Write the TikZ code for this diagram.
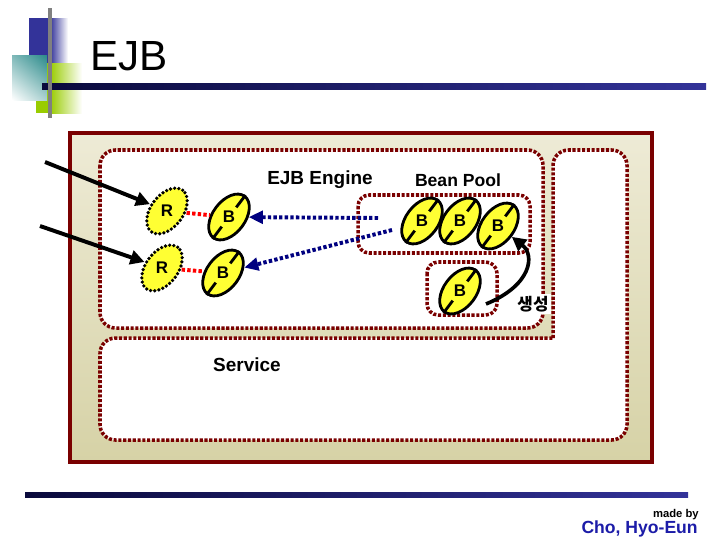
\documentclass[tikz,border=0pt]{standalone}
\usepackage{fontspec}
\setmainfont{Liberation Sans}
\newfontfamily\krfont{Noto Sans CJK KR}
\usetikzlibrary{arrows.meta,shapes,shadings,calc}

\definecolor{framered}{HTML}{7A0000}
\definecolor{beigetop}{HTML}{EEEBD6}
\definecolor{beigebot}{HTML}{D6D2A6}
\definecolor{beanyellow}{HTML}{FFFF33}
\definecolor{navy}{HTML}{000080}
\definecolor{slate}{HTML}{333399}
\definecolor{navydark}{HTML}{0A0A3C}
\definecolor{lime}{HTML}{99CC00}
\definecolor{tealdark}{HTML}{2A8A8A}
\definecolor{sigblue}{HTML}{1C1CA8}

\tikzstyle{dotbox}=[draw=framered, line width=2.5pt, dash pattern=on 2.2pt off 1.2pt, fill=white, rounded corners=11pt]
\tikzstyle{bean}=[ellipse, rotate=53, draw=black, line width=2pt, fill=beanyellow, minimum width=37pt, minimum height=23pt, inner sep=0pt, font=\bfseries\fontsize{12}{12}\selectfont]
\tikzstyle{req}=[bean, line width=2.6pt, dash pattern=on 0pt off 3pt, line cap=round]
\tikzstyle{slot}=[draw, line width=2pt]
\tikzstyle{call}=[draw, line width=2.8pt, -{Triangle[length=10pt,width=10pt]}]
\tikzstyle{link}=[draw, red, line width=2.8pt, dash pattern=on 2.4pt off 1.6pt]
\tikzstyle{lookup}=[draw, navy, line width=2.8pt, dash pattern=on 2.4pt off 1.6pt, -{Triangle[length=10pt,width=9pt]}]
\tikzstyle{boxlabel}=[font=\bfseries\fontsize{13.5}{13.5}\selectfont]

\begin{document}
\begin{tikzpicture}[x=0.025cm, y=-0.025cm]

    \useasboundingbox (0,0) rectangle (720,540);

    % title decoration
    \fill[slate] (29,18) rectangle (50,63);
    \shade[left color=slate, right color=white] (50,18) rectangle (68,63);
    \fill[lime] (36,63) rectangle (50,113);
    \shade[left color=lime, right color=white] (50,63) rectangle (82,113);
    \shade[upper right=tealdark, upper left=tealdark!60, lower left=white, lower right=tealdark!40] (12,55) rectangle (47,100);
    \shade[left color=navydark, right color=slate] (42,83) rectangle (706,89);
    \draw[gray, line width=2.2pt] (50,8) -- (50,118);
    \node[anchor=base west, font=\fontsize{30}{30}\selectfont, inner sep=0pt] (title) at (90,70) {EJB};

    % container
    \draw[framered, line width=2.8pt, top color=beigetop, bottom color=beigebot] (70,133) rectangle (652,462);
    \draw[dotbox] (553,338) -- (553,150) -- (627,150) -- (627,440) -- (100,440) -- (100,338) -- (553,338);
    \draw[dotbox] (100,150) rectangle (543,328);
    \draw[dotbox, rounded corners=8pt] (358,195) rectangle (530,253);
    \draw[dotbox, rounded corners=8pt] (427,262) rectangle (497,315);

    \node[boxlabel] (engine) at (320,180) {EJB Engine};
    \node[boxlabel, font=\bfseries\fontsize{12.5}{12.5}\selectfont] (pool) at (458,180) {Bean Pool};
    \node[boxlabel] (service) at (247,365) {Service};
    \node[fill=white, inner sep=1.5pt, font=\krfont\bfseries\fontsize{12}{12}\selectfont] (make) at (533,304) {생성};

    % requests and beans
    \foreach \x/\y/\name in {167/211/r1, 162/268/r2}
        \node[req] (\name) at (\x,\y) {\rotatebox{-53}{R}};

    \foreach \x/\y/\name in {229/217/b1, 223/273/b2, 422/221/p1, 460/221/p2, 498/226/p3, 460/291/p4}
        \node[bean] (\name) at (\x,\y) {\rotatebox{-53}{B}};

    \foreach \name in {b1, b2, p1, p2, p3, p4} {
        \draw[slot] (\name.east) -- ($(\name.east)!0.28!(\name.west)$);
        \draw[slot] (\name.west) -- ($(\name.west)!0.28!(\name.east)$);
    }

    % connectors
    \coordinate (in1) at (45,162);
    \coordinate (in2) at (40,226);
    \coordinate (from1) at (378,218);
    \coordinate (from2) at (392,230);
    \coordinate (grow) at (486,304);

    \path[call] (in1) -- (r1);
    \path[call] (in2) -- (r2);
    \path[link] (r1) -- (b1);
    \path[link] (r2) -- (b2);
    \path[lookup] (from1) -- (b1);
    \path[lookup] (from2) -- (b2);
    \path[call, line width=2.6pt] (grow) .. controls (532,285) and (535,255) .. (p3);

    % footer
    \shade[left color=navydark, right color=slate] (25,492) rectangle (688,497);
    \node[anchor=base east, font=\bfseries\fontsize{8}{8}\selectfont, inner sep=0pt] (madeby) at (699,517) {made by};
    \node[anchor=base east, font=\bfseries\fontsize{12.5}{12.5}\selectfont, text=sigblue, inner sep=0pt] (author) at (698,533) {Cho, Hyo-Eun};

\end{tikzpicture}
\end{document}
